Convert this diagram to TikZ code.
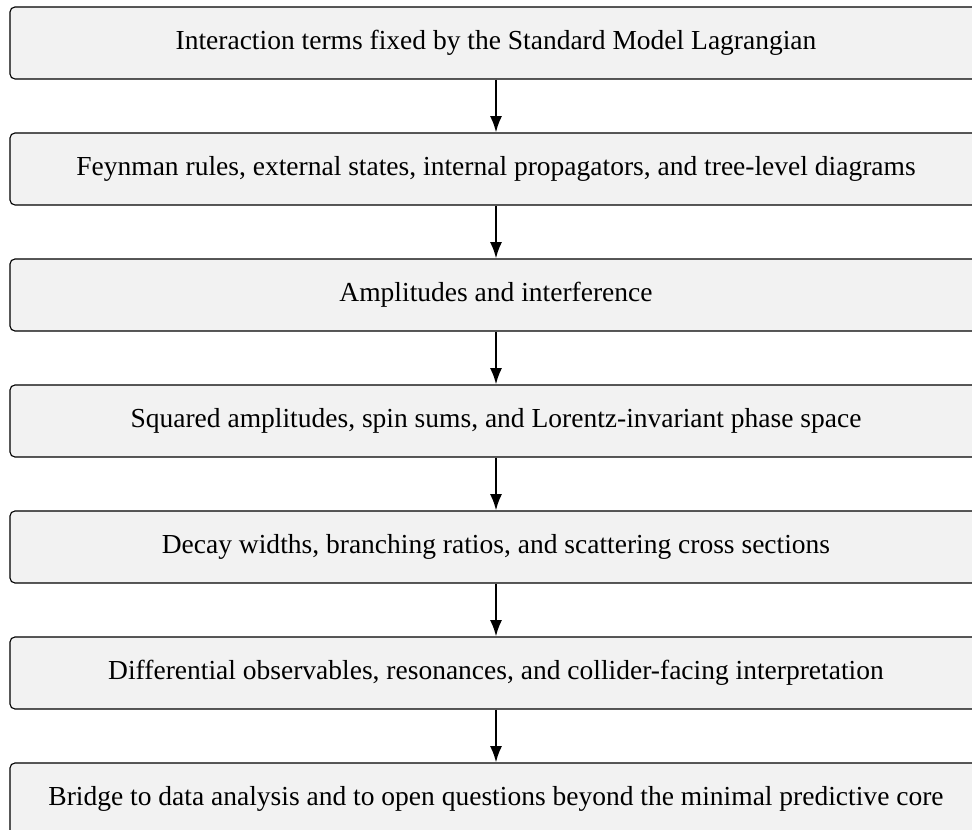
\documentclass[tikz,border=0pt]{standalone}
\usepackage{fontspec}
\setmainfont{Liberation Serif}
\usetikzlibrary{arrows.meta}
\begin{document}
\begin{tikzpicture}[x=0.4pt,y=-0.4pt,
  stage/.style={draw=black, line width=0.45pt, fill=black!5, rounded corners=2pt,
    minimum width=388.8pt, minimum height=28.8pt, inner sep=0pt, align=center,
    font=\fontsize{11}{13}\selectfont},
  flow/.style={-{Latex[length=6.5pt,width=4.8pt]}, line width=0.8pt}]
\useasboundingbox (0,0) rectangle (972,830);
\node[stage] (s1) at (496,43) {Interaction terms fixed by the Standard Model Lagrangian};
\node[stage] (s2) at (496,169) {Feynman rules, external states, internal propagators, and tree-level diagrams};
\node[stage] (s3) at (496,295) {Amplitudes and interference};
\node[stage] (s4) at (496,421) {Squared amplitudes, spin sums, and Lorentz-invariant phase space};
\node[stage] (s5) at (496,547) {Decay widths, branching ratios, and scattering cross sections};
\node[stage] (s6) at (496,673) {Differential observables, resonances, and collider-facing interpretation};
\node[stage] (s7) at (496,799) {Bridge to data analysis and to open questions beyond the minimal predictive core};
\draw[flow] (s1) -- (s2);
\draw[flow] (s2) -- (s3);
\draw[flow] (s3) -- (s4);
\draw[flow] (s4) -- (s5);
\draw[flow] (s5) -- (s6);
\draw[flow] (s6) -- (s7);
\end{tikzpicture}
\end{document}
